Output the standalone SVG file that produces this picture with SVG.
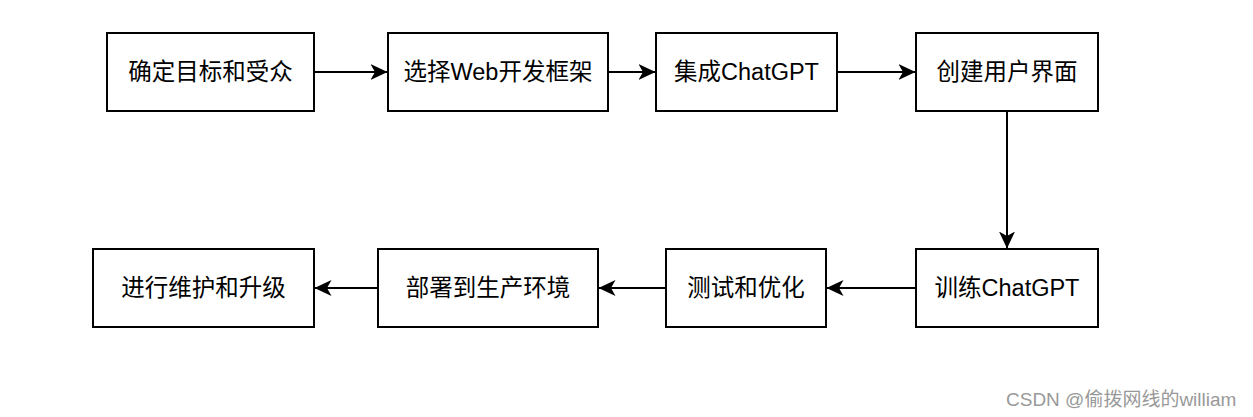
<svg xmlns="http://www.w3.org/2000/svg" width="1253" height="417" viewBox="0 0 1253 417">
<style>
.box{fill:#fff;stroke:#000;stroke-width:2}
.lbl{font-family:"Liberation Sans","Noto Sans CJK SC",sans-serif;font-size:23.5px;fill:#000;text-anchor:middle;dominant-baseline:central}
.edge{stroke:#000;stroke-width:2;fill:none}
.wm{font-family:"Liberation Sans","Noto Sans CJK SC",sans-serif;font-size:19px;fill:#999}
</style>
<defs>
<marker id="arr" viewBox="0 0 17 16" refX="16.5" refY="8" markerWidth="17" markerHeight="16" markerUnits="userSpaceOnUse" orient="auto">
<path d="M0,0 L17,8 L0,16 L4.5,8 z" fill="#000"/>
</marker>
</defs>
<rect width="1253" height="417" fill="#fff"/>
<g id="connectors">
<line class="edge" x1="314" y1="72" x2="387" y2="72" marker-end="url(#arr)"/>
<line class="edge" x1="608" y1="72" x2="655" y2="72" marker-end="url(#arr)"/>
<line class="edge" x1="837" y1="72" x2="915" y2="72" marker-end="url(#arr)"/>
<line class="edge" x1="1007" y1="111" x2="1007" y2="248" marker-end="url(#arr)"/>
<line class="edge" x1="916" y1="288" x2="827" y2="288" marker-end="url(#arr)"/>
<line class="edge" x1="666" y1="288" x2="599" y2="288" marker-end="url(#arr)"/>
<line class="edge" x1="378" y1="288" x2="315" y2="288" marker-end="url(#arr)"/>
</g>
<g id="n1"><rect class="box" x="107" y="33" width="207" height="78"/><text class="lbl" x="210.5" y="72">确定目标和受众</text></g>
<g id="n2"><rect class="box" x="388" y="33" width="220" height="78"/><text class="lbl" x="498" y="72">选择Web开发框架</text></g>
<g id="n3"><rect class="box" x="656" y="33" width="181" height="78"/><text class="lbl" x="746.5" y="72">集成ChatGPT</text></g>
<g id="n4"><rect class="box" x="916" y="33" width="182" height="78"/><text class="lbl" x="1007" y="72">创建用户界面</text></g>
<g id="n5"><rect class="box" x="916" y="249" width="182" height="78"/><text class="lbl" x="1007" y="288">训练ChatGPT</text></g>
<g id="n6"><rect class="box" x="666" y="249" width="160" height="78"/><text class="lbl" x="746" y="288">测试和优化</text></g>
<g id="n7"><rect class="box" x="378" y="249" width="220" height="78"/><text class="lbl" x="488" y="288">部署到生产环境</text></g>
<g id="n8"><rect class="box" x="93" y="249" width="221" height="78"/><text class="lbl" x="203.5" y="288">进行维护和升级</text></g>
<text class="wm" x="1006" y="406">CSDN @偷拨网线的william</text>
</svg>
